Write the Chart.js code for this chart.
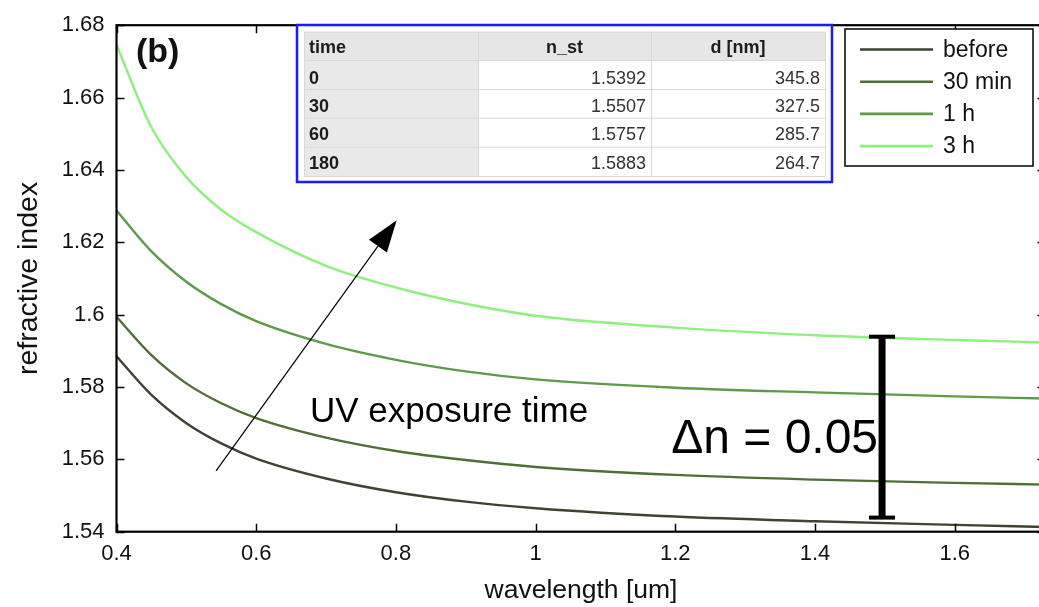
<!DOCTYPE html>
<html>
<head>
<meta charset="utf-8">
<script src="https://cdn.jsdelivr.net/npm/chart.js@4.4.1/dist/chart.umd.min.js"></script>
<style>
  html, body { margin: 0; padding: 0; background: #ffffff; overflow: hidden; }
  #wrap { position: relative; width: 1050px; height: 607px; }
</style>
</head>
<body>
<div id="wrap"><canvas id="c" width="1050" height="607"></canvas></div>
<script>
// Wavelength samples [um]
const wavelength = [0.40, 0.45, 0.50, 0.55, 0.60, 0.70, 0.80, 0.90, 1.00, 1.20, 1.40, 1.60, 1.73];

// Refractive index after each UV exposure
const nBefore = [1.5885, 1.5778, 1.5700, 1.5644, 1.5602, 1.5547, 1.5509, 1.5483, 1.5465, 1.5442, 1.5429, 1.5419, 1.5413];
const n30min  = [1.5994, 1.5888, 1.5810, 1.5755, 1.5714, 1.5660, 1.5623, 1.5598, 1.5579, 1.5557, 1.5544, 1.5535, 1.5530];
const n1h     = [1.6288, 1.6175, 1.6091, 1.6029, 1.5982, 1.5919, 1.5875, 1.5843, 1.5821, 1.5798, 1.5785, 1.5774, 1.5768];
const n3h     = [1.6746, 1.6518, 1.6380, 1.6290, 1.6228, 1.6135, 1.6075, 1.6030, 1.5997, 1.5964, 1.5943, 1.5930, 1.5923];

const seriesNames  = ['before', '30 min', '1 h', '3 h'];
const seriesColors = ['#3c4530', '#4f6f38', '#5e9a4a', '#8ef07e'];

// Axis ticks
const xTickValues = [0.4, 0.6, 0.8, 1.0, 1.2, 1.4, 1.6];
const xTickLabels = ['0.4', '0.6', '0.8', '1', '1.2', '1.4', '1.6'];
const yTickValues = [1.54, 1.56, 1.58, 1.60, 1.62, 1.64, 1.66, 1.68];
const yTickLabels = ['1.54', '1.56', '1.58', '1.6', '1.62', '1.64', '1.66', '1.68'];

// Fit results table
const tableHeader = ['time', 'n_st', 'd [nm]'];
const tableTime   = ['0', '30', '60', '180'];
const tableNst    = [1.5392, 1.5507, 1.5757, 1.5883];
const tableD      = [345.8, 327.5, 285.7, 264.7];

// Annotations (data coordinates)
const arrowFrom = { x: 0.5425, y: 1.5568 };
const arrowTo   = { x: 0.8011, y: 1.6261 };
const deltaN    = 0.05;
const deltaX    = 1.496;
const deltaBase = 1.5439;

const FONT = "'Liberation Sans', Arial, Helvetica, sans-serif";
const allSeries = [nBefore, n30min, n1h, n3h];

const datasets = allSeries.map((vals, i) => ({
  label: seriesNames[i],
  data: wavelength.map((w, k) => ({ x: w, y: vals[k] })),
  borderColor: seriesColors[i],
  backgroundColor: seriesColors[i],
  borderWidth: 2.4,
  pointRadius: 0,
  fill: false,
  cubicInterpolationMode: 'monotone'
}));

const decor = {
  id: 'decor',
  afterDraw(chart) {
    const { ctx, chartArea: a, scales: { x, y } } = chart;
    ctx.save();

    // Inward ticks on all four sides
    ctx.strokeStyle = '#000';
    ctx.lineWidth = 1.5;
    ctx.beginPath();
    xTickValues.forEach(v => {
      const px = Math.round(x.getPixelForValue(v)) + 0.5;
      ctx.moveTo(px, a.bottom); ctx.lineTo(px, a.bottom - 8);
      ctx.moveTo(px, a.top);    ctx.lineTo(px, a.top + 8);
    });
    yTickValues.forEach(v => {
      const py = Math.round(y.getPixelForValue(v)) + 0.5;
      ctx.moveTo(a.left, py);  ctx.lineTo(a.left + 8, py);
      ctx.moveTo(a.right, py); ctx.lineTo(a.right - 8, py);
    });
    ctx.stroke();

    // Axes box
    ctx.lineWidth = 2.2;
    ctx.strokeRect(a.left, a.top, a.right - a.left, a.bottom - a.top);

    // Panel label
    ctx.fillStyle = '#111';
    ctx.font = 'bold 34px ' + FONT;
    ctx.textAlign = 'left';
    ctx.textBaseline = 'alphabetic';
    ctx.fillText('(b)', 136, 62);

    // Exposure-time arrow
    const x0 = x.getPixelForValue(arrowFrom.x), y0 = y.getPixelForValue(arrowFrom.y);
    const x1 = x.getPixelForValue(arrowTo.x),   y1 = y.getPixelForValue(arrowTo.y);
    const ang = Math.atan2(y1 - y0, x1 - x0);
    const headLen = 32, headHalf = 11;
    const bx = x1 - headLen * Math.cos(ang), by = y1 - headLen * Math.sin(ang);
    ctx.strokeStyle = '#000';
    ctx.lineWidth = 1.2;
    ctx.beginPath(); ctx.moveTo(x0, y0); ctx.lineTo(bx, by); ctx.stroke();
    ctx.fillStyle = '#000';
    ctx.beginPath();
    ctx.moveTo(x1, y1);
    ctx.lineTo(bx + headHalf * Math.sin(ang), by - headHalf * Math.cos(ang));
    ctx.lineTo(bx - headHalf * Math.sin(ang), by + headHalf * Math.cos(ang));
    ctx.closePath(); ctx.fill();

    ctx.font = '35px ' + FONT;
    ctx.fillText('UV exposure time', 310, 422);

    // Index-change bar
    const bxp = x.getPixelForValue(deltaX);
    const yb = y.getPixelForValue(deltaBase), yt = y.getPixelForValue(deltaBase + deltaN);
    ctx.fillRect(bxp - 3.5, yt, 7, yb - yt);
    ctx.fillRect(bxp - 13, yt - 2, 26, 4);
    ctx.fillRect(bxp - 13, yb - 2, 26, 4);
    ctx.font = '48px ' + FONT;
    ctx.textAlign = 'right';
    ctx.fillText('\u0394n = ' + deltaN.toFixed(2), bxp - 4, 453);

    // Legend
    const lg = { l: 845, t: 29, r: 1033, b: 166 };
    ctx.fillStyle = '#fff';
    ctx.fillRect(lg.l, lg.t, lg.r - lg.l, lg.b - lg.t);
    ctx.strokeStyle = '#111';
    ctx.lineWidth = 1.6;
    ctx.strokeRect(lg.l, lg.t, lg.r - lg.l, lg.b - lg.t);
    ctx.font = '23px ' + FONT;
    ctx.textAlign = 'left';
    ctx.textBaseline = 'middle';
    chart.data.datasets.forEach((ds, i) => {
      const ry = 49.5 + i * 32.2;
      ctx.strokeStyle = ds.borderColor;
      ctx.lineWidth = 2.6;
      ctx.beginPath(); ctx.moveTo(860, ry); ctx.lineTo(933, ry); ctx.stroke();
      ctx.fillStyle = '#111';
      ctx.fillText(ds.label, 943, ry + 1);
    });

    // Results table
    const colX = [304, 478, 651, 825];
    const rowY = [31.7, 60, 89, 117.7, 146.7, 176];
    ctx.fillStyle = '#fff';
    ctx.fillRect(297, 25, 535, 157);
    ctx.fillStyle = '#e6e6e6';
    ctx.fillRect(colX[0], rowY[0], colX[3] - colX[0], rowY[1] - rowY[0]);
    ctx.fillStyle = '#e9e9e9';
    ctx.fillRect(colX[0], rowY[1], colX[1] - colX[0], rowY[5] - rowY[1]);
    ctx.strokeStyle = '#d9d9d9';
    ctx.lineWidth = 1;
    ctx.beginPath();
    rowY.forEach(ry => { ctx.moveTo(colX[0], ry + 0.5); ctx.lineTo(colX[3], ry + 0.5); });
    colX.forEach(cx => { ctx.moveTo(cx + 0.5, rowY[0]); ctx.lineTo(cx + 0.5, rowY[5]); });
    ctx.stroke();
    ctx.strokeStyle = '#1a1aff';
    ctx.lineWidth = 2.5;
    ctx.strokeRect(297, 25, 535, 157);

    ctx.textBaseline = 'alphabetic';
    ctx.fillStyle = '#1c1c1c';
    ctx.font = 'bold 18px ' + FONT;
    ctx.textAlign = 'left';
    ctx.fillText(tableHeader[0], 309, 53);
    ctx.textAlign = 'center';
    ctx.fillText(tableHeader[1], (colX[1] + colX[2]) / 2, 53);
    ctx.fillText(tableHeader[2], (colX[2] + colX[3]) / 2, 53);
    tableTime.forEach((t, i) => {
      const base = 83.5 + i * 28.4;
      ctx.font = 'bold 18px ' + FONT;
      ctx.textAlign = 'left';
      ctx.fillStyle = '#1c1c1c';
      ctx.fillText(t, 309, base);
      ctx.font = '18px ' + FONT;
      ctx.textAlign = 'right';
      ctx.fillStyle = '#333';
      ctx.fillText(tableNst[i].toFixed(4), 646, base);
      ctx.fillText(tableD[i].toFixed(1), 820, base);
    });

    ctx.restore();
  }
};

new Chart(document.getElementById('c'), {
  type: 'line',
  data: { datasets },
  options: {
    responsive: false,
    animation: false,
    layout: { padding: { top: 16.7, right: 4.5, bottom: 0, left: 0 } },
    plugins: { legend: { display: false }, tooltip: { enabled: false } },
    scales: {
      x: {
        type: 'linear',
        min: 0.4,
        max: 1.73,
        grid: { display: false, drawTicks: false },
        border: { display: false },
        afterBuildTicks(scale) { scale.ticks = xTickValues.map(v => ({ value: v })); },
        afterFit(scale) { scale.height = 75.3; },
        ticks: {
          padding: 9,
          color: '#111',
          font: { family: FONT, size: 22 },
          maxRotation: 0,
          autoSkip: false,
          callback: (v, i) => xTickLabels[i]
        },
        title: {
          display: true,
          text: 'wavelength [um]',
          color: '#111',
          font: { family: FONT, size: 26.5 },
          padding: { top: 0, bottom: 0 }
        }
      },
      y: {
        type: 'linear',
        min: 1.54,
        max: 1.68,
        grid: { display: false, drawTicks: false },
        border: { display: false },
        afterBuildTicks(scale) { scale.ticks = yTickValues.map(v => ({ value: v })); },
        afterFit(scale) { scale.width = 116.5; },
        ticks: {
          padding: 12,
          color: '#111',
          font: { family: FONT, size: 22 },
          autoSkip: false,
          callback: (v, i) => yTickLabels[i]
        },
        title: {
          display: true,
          text: 'refractive index',
          color: '#111',
          font: { family: FONT, size: 28.5 },
          padding: { top: 12, bottom: 0 }
        }
      }
    }
  },
  plugins: [decor]
});
</script>
</body>
</html>
